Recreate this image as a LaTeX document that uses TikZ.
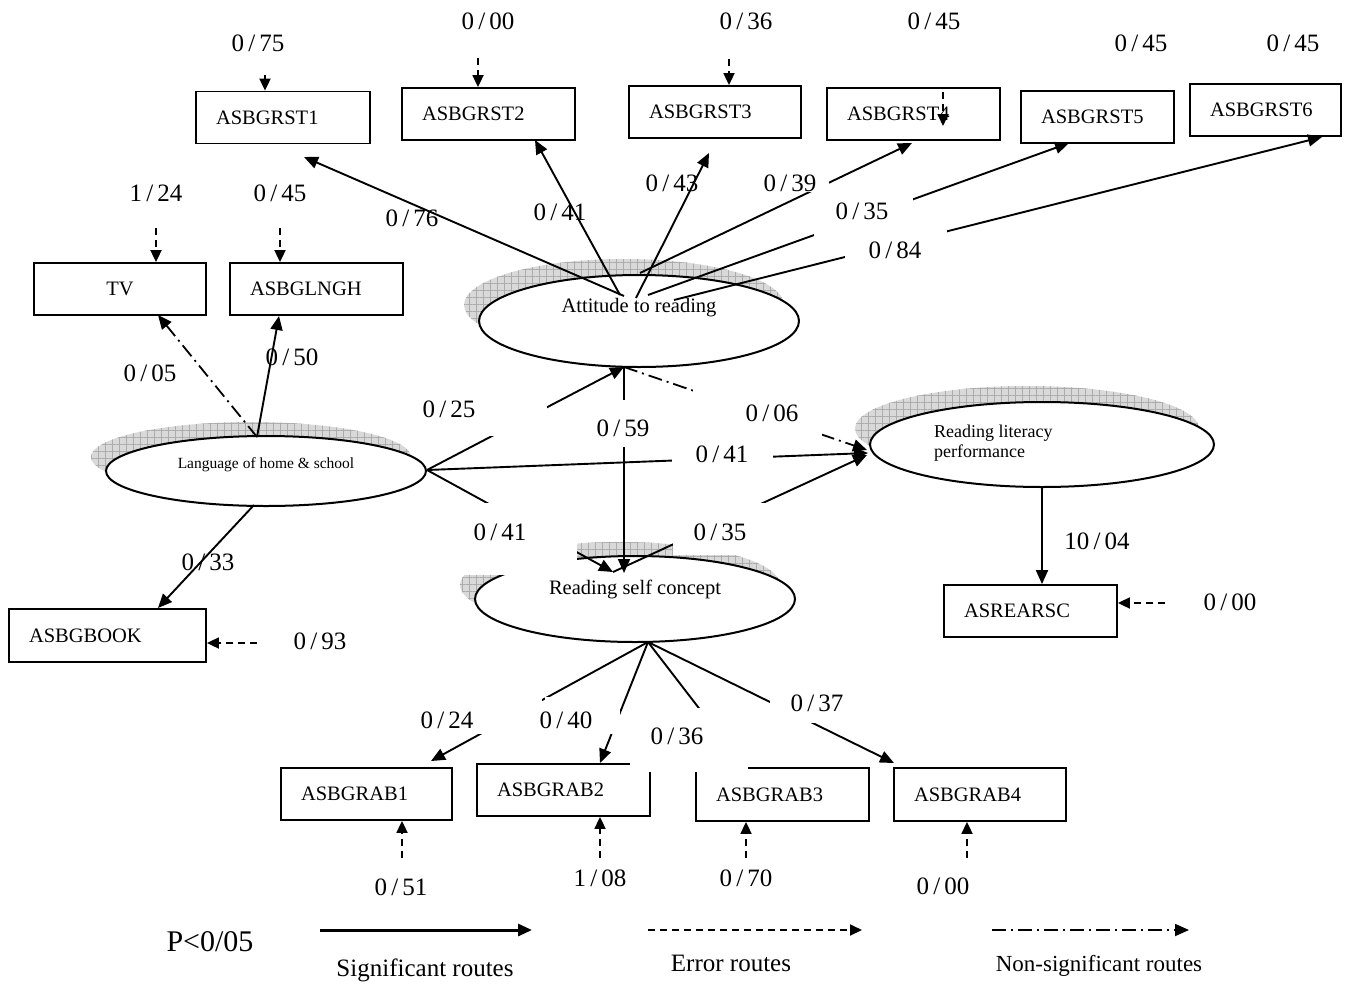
\documentclass[tikz,border=0pt]{standalone}
\usepackage{fontspec}
\setmainfont{Liberation Serif}
\usetikzlibrary{arrows.meta,patterns.meta,shapes.geometric,calc}
\newcommand\numlab[2]{#1\,/\,#2}
\tikzset{
  box/.style={draw, line width=1.8pt, inner xsep=20pt, inner ysep=0pt, minimum height=52pt, align=left, font=\fontsize{20.5}{24}\selectfont},
  lat/.style={draw, line width=2pt, ellipse, fill=white, inner sep=0pt},
  num/.style={inner sep=0pt, font=\fontsize{25}{30}\selectfont},
  sig/.style={line width=1.9pt, -{Triangle[length=14pt,width=12pt]}},
  err/.style={line width=1.8pt, dash pattern=on 7pt off 5pt, -{Triangle[length=12pt,width=11pt]}},
  nsig/.style={line width=1.8pt, dash pattern=on 14pt off 5pt on 2pt off 5pt, -{Triangle[length=14pt,width=12pt]}},
  cover/.style={fill=white},
  shade/.style={fill=gray!30,
    postaction={pattern={Lines[angle=0,distance=7pt,line width=0.6pt]}, pattern color=gray!65},
    postaction={pattern={Lines[angle=90,distance=7pt,line width=0.6pt]}, pattern color=gray!65}},
  legtext/.style={inner sep=0pt, font=\fontsize{25}{30}\selectfont},
}
\begin{document}
\begin{tikzpicture}[x=1pt,y=-1pt]
\useasboundingbox (0,0) rectangle (1347,983);

% shadows
\path[shade] (624,305) ellipse [x radius=160pt, y radius=46pt];
\path[shade] (251,457) ellipse [x radius=160pt, y radius=35pt];
\path[shade] (1027,428.5) ellipse [x radius=172pt, y radius=42.5pt];
\path[shade] (620,585) ellipse [x radius=160pt, y radius=43pt];

% latent variables
\node[lat, minimum width=320pt, minimum height=92pt] (att) at (639,321) {};
\node[lat, minimum width=320pt, minimum height=70pt] (lang) at (266,471) {};
\node[lat, minimum width=344pt, minimum height=85pt] (lit) at (1042,444.5) {};
\node[lat, minimum width=320pt, minimum height=86pt] (rsc) at (635,599) {};
\node[inner sep=0pt, font=\fontsize{20.5}{24}\selectfont] (attT) at (639,308) {Attitude to reading};
\node[inner sep=0pt, font=\fontsize{15.5}{18}\selectfont] (langT) at (266,465) {Language of home \& school};
\node[inner sep=0pt, anchor=west, align=left, font=\fontsize{18}{20}\selectfont] (litT) at (934,443) {Reading literacy\\performance};
\node[inner sep=0pt, font=\fontsize{20.5}{24}\selectfont] (rscT) at (635,589) {Reading self concept};

% observed variables
\node[box, text width=134pt] (g1) at (283,117.5) {ASBGRST1};
\node[box, text width=133pt] (g2) at (488.5,114) {ASBGRST2};
\node[box, text width=132pt] (g3) at (715,112) {ASBGRST3};
\node[box, text width=133pt] (g4) at (913.5,114) {ASBGRST4};
\node[box, text width=113pt] (g5) at (1097.5,117) {ASBGRST5};
\node[box, text width=111pt] (g6) at (1265.5,110) {ASBGRST6};
\node[box, text width=132pt, align=center] (tv) at (120,289) {TV};
\node[box, text width=133pt] (lngh) at (316.5,289) {ASBGLNGH};
\node[box, text width=157pt, minimum height=53pt] (book) at (107.5,635.5) {ASBGBOOK};
\node[box, text width=133pt] (rear) at (1030.5,611) {ASREARSC};
\node[box, text width=131pt] (r1) at (366.5,794) {ASBGRAB1};
\node[box, text width=133pt] (r2) at (563.5,790) {ASBGRAB2};
\node[box, text width=133pt, minimum height=53pt] (r3) at (782.5,794.5) {ASBGRAB3};
\node[box, text width=132pt, minimum height=53pt] (r4) at (980,794.5) {ASBGRAB4};

% connector end points
\coordinate (aA) at (624,296); \coordinate (aB) at (620,295);
\coordinate (aC) at (636,298); \coordinate (aD) at (640,273);
\coordinate (aE) at (648,295); \coordinate (aF) at (674,300);
\coordinate (t1) at (304,157); \coordinate (t2) at (535,140);
\coordinate (t3) at (709,153); \coordinate (t4) at (912,143);
\coordinate (t5) at (1069,143); \coordinate (t6) at (1322,137);
\coordinate (lT) at (257,437); \coordinate (lB) at (254,505); \coordinate (lR) at (427,470);
\coordinate (tTV) at (158,315); \coordinate (tLN) at (279,316); \coordinate (tBK) at (158,608);
\coordinate (attS) at (624,367);
\coordinate (litW1) at (868,453); \coordinate (litW2) at (867,450); \coordinate (litW3) at (867,455);
\coordinate (rscT1) at (613,572); \coordinate (rscT2) at (624,573);
\coordinate (rB) at (648,642);
\coordinate (tr1) at (431,761); \coordinate (tr2) at (600,763);
\coordinate (tr3) at (745,768); \coordinate (tr4) at (894,763);

% significant / non-significant routes
\draw[sig] (aA) -- (t1);
\draw[sig] (aB) -- (t2);
\draw[sig] (aC) -- (t3);
\draw[sig] (aD) -- (t4);
\draw[sig] (aE) -- (t5);
\draw[sig] (aF) -- (t6);
\draw[sig] (lT) -- (tLN);
\draw[nsig] (lT) -- (tTV);
\draw[sig] (lB) -- (tBK);
\draw[sig] (lR) -- (attS);
\draw[sig] (lR) -- (litW1);
\draw[sig] (lR) -- (rscT1);
\draw[sig] (attS) -- (rscT2);
\draw[nsig] (attS) -- (litW2);
\draw[sig] (rscT1) -- (litW3);
\draw[sig] (lit.south) -- (lit.south |- rear.north);
\draw[sig] (rB) -- (tr1);
\draw[sig] (rB) -- (tr2);
\draw[sig] (rB) -- (tr3);
\draw[sig] (rB) -- (tr4);

% error routes
\coordinate (e1) at (265,75); \coordinate (e2) at (478,58);
\coordinate (e3) at (729,59); \coordinate (e4) at (943,92); \coordinate (e4b) at (943,126);
\coordinate (eTV) at (156,228); \coordinate (eLN) at (280,228);
\coordinate (eBK) at (257,643); \coordinate (eRE) at (1165,603);
\coordinate (er1) at (402,858); \coordinate (er2) at (600,858);
\coordinate (er3) at (746,858); \coordinate (er4) at (967,858);
\draw[err] (e1) -- (e1 |- g1.north);
\draw[err] (e2) -- (e2 |- g2.north);
\draw[err] (e3) -- (e3 |- g3.north);
\draw[err] (e4) -- (e4b);
\draw[err] (eTV) -- (eTV |- tv.north);
\draw[err] (eLN) -- (eLN |- lngh.north);
\draw[err] (eBK) -- (eBK -| book.east);
\draw[err] (eRE) -- (eRE -| rear.east);
\draw[err] (er1) -- (er1 |- r1.south);
\draw[err] (er2) -- (er2 |- r2.south);
\draw[err] (er3) -- (er3 |- r3.south);
\draw[err] (er4) -- (er4 |- r4.south);

% white label boxes
\fill[cover] (760,165) rectangle (829,192);
\fill[cover] (814,193) rectangle (913,238);
\fill[cover] (845,226) rectangle (947,262);
\fill[cover] (415,395) rectangle (547,436);
\fill[cover] (585,400) rectangle (660,447);
\fill[cover] (693,386) rectangle (822,440);
\fill[cover] (672,441) rectangle (773,478);
\fill[cover] (440,503) rectangle (577,575);
\fill[cover] (673,503) rectangle (770,555);
\fill[cover] (415,697) rectangle (542,734);
\fill[cover] (545,697) rectangle (620,734);
\fill[cover] (630,708) rectangle (748,772);
\fill[cover] (770,685) rectangle (860,723);

% labels
\node[num] (l75) at (258,43) {\numlab{0}{75}};
\node[num] (l00a) at (488,21) {\numlab{0}{00}};
\node[num] (l36a) at (746,21) {\numlab{0}{36}};
\node[num] (l45a) at (934,21) {\numlab{0}{45}};
\node[num] (l45b) at (1141,43) {\numlab{0}{45}};
\node[num] (l45c) at (1293,43) {\numlab{0}{45}};
\node[num] (l76) at (412,218) {\numlab{0}{76}};
\node[num] (l41a) at (560,212) {\numlab{0}{41}};
\node[num] (l43) at (672,183) {\numlab{0}{43}};
\node[num] (l39) at (790,183) {\numlab{0}{39}};
\node[num] (l35a) at (862,211) {\numlab{0}{35}};
\node[num] (l84) at (895,250) {\numlab{0}{84}};
\node[num] (l124) at (156,193) {\numlab{1}{24}};
\node[num] (l45d) at (280,193) {\numlab{0}{45}};
\node[num] (l05) at (150,373) {\numlab{0}{05}};
\node[num] (l50) at (292,357) {\numlab{0}{50}};
\node[num] (l33) at (208,562) {\numlab{0}{33}};
\node[num] (l93) at (320,641) {\numlab{0}{93}};
\node[num] (l25) at (449,409) {\numlab{0}{25}};
\node[num] (l59) at (623,428) {\numlab{0}{59}};
\node[num] (l06) at (772,413) {\numlab{0}{06}};
\node[num] (l41b) at (722,454) {\numlab{0}{41}};
\node[num] (l41c) at (500,532) {\numlab{0}{41}};
\node[num] (l35b) at (720,532) {\numlab{0}{35}};
\node[num] (l1004) at (1097,541) {\numlab{10}{04}};
\node[num] (l00b) at (1230,602) {\numlab{0}{00}};
\node[num] (l24) at (447,720) {\numlab{0}{24}};
\node[num] (l40) at (566,720) {\numlab{0}{40}};
\node[num] (l36b) at (677,736) {\numlab{0}{36}};
\node[num] (l37) at (817,703) {\numlab{0}{37}};
\node[num] (l51) at (401,887) {\numlab{0}{51}};
\node[num] (l108) at (600,878) {\numlab{1}{08}};
\node[num] (l70) at (746,878) {\numlab{0}{70}};
\node[num] (l00c) at (943,886) {\numlab{0}{00}};

% legend
\node[inner sep=0pt, font=\fontsize{30}{36}\selectfont] (pval) at (210,942) {P<0/05};
\coordinate (s1) at (320,930); \coordinate (s2) at (532,930);
\coordinate (d1) at (648,930); \coordinate (d2) at (862,930);
\coordinate (n1) at (992,930); \coordinate (n2) at (1189,930);
\draw[line width=3pt, -{Triangle[length=14pt,width=12pt]}] (s1) -- (s2);
\draw[err] (d1) -- (d2);
\draw[nsig] (n1) -- (n2);
\node[legtext] (leg1) at (425,970) {Significant routes};
\node[legtext] (leg2) at (731,963) {Error routes};
\node[legtext, font=\fontsize{23}{28}\selectfont] (leg3) at (1099,966) {Non-significant routes};
\end{tikzpicture}
\end{document}
